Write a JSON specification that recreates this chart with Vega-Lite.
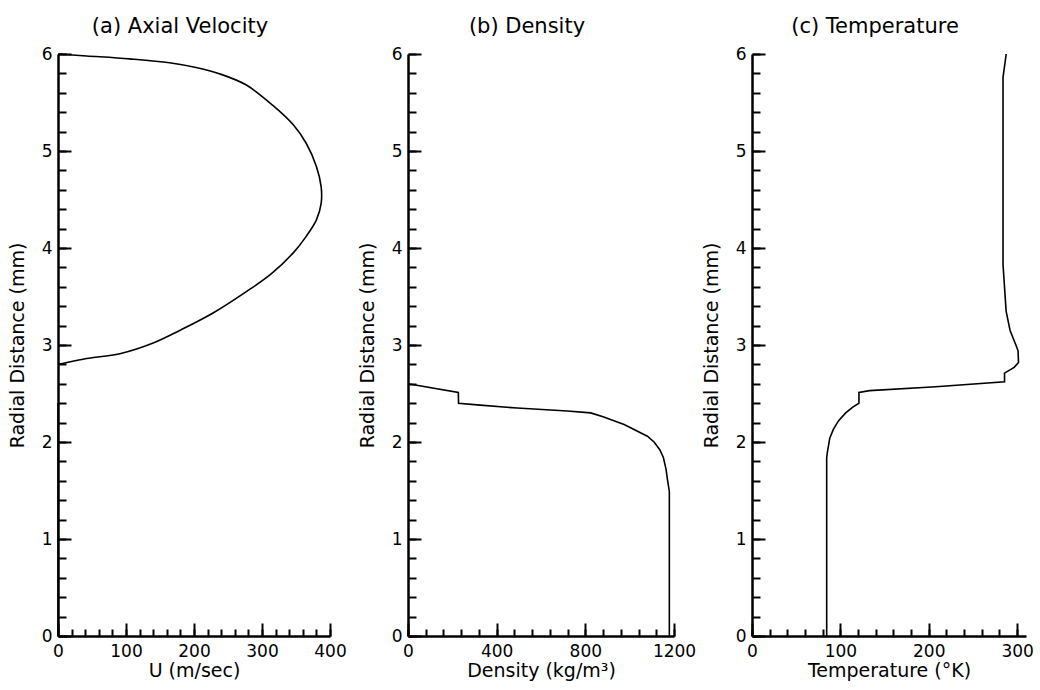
{
  "$schema": "https://vega.github.io/schema/vega-lite/v6.json",
  "background": "white",
  "padding": {"left": 8, "top": 16, "right": 5, "bottom": 2},
  "datasets": {
    "vel": [
      {"seg": "a", "U": 0, "r": 0},
      {"seg": "a", "U": 0, "r": 2.4},
      {"seg": "b", "U": 0, "r": 2.8},
      {"seg": "b", "U": 7, "r": 2.81},
      {"seg": "b", "U": 42, "r": 2.86},
      {"seg": "b", "U": 91, "r": 2.91},
      {"seg": "b", "U": 140, "r": 3.02},
      {"seg": "b", "U": 179, "r": 3.15},
      {"seg": "b", "U": 228, "r": 3.33},
      {"seg": "b", "U": 277, "r": 3.55},
      {"seg": "b", "U": 313, "r": 3.73},
      {"seg": "b", "U": 346, "r": 3.95},
      {"seg": "b", "U": 365, "r": 4.12},
      {"seg": "b", "U": 380, "r": 4.29},
      {"seg": "b", "U": 387, "r": 4.46},
      {"seg": "b", "U": 387, "r": 4.63},
      {"seg": "b", "U": 380, "r": 4.84},
      {"seg": "b", "U": 365, "r": 5.08},
      {"seg": "b", "U": 346, "r": 5.27},
      {"seg": "b", "U": 316, "r": 5.47},
      {"seg": "b", "U": 277, "r": 5.68},
      {"seg": "b", "U": 240, "r": 5.79},
      {"seg": "b", "U": 203, "r": 5.86},
      {"seg": "b", "U": 164, "r": 5.91},
      {"seg": "b", "U": 105, "r": 5.95},
      {"seg": "b", "U": 42, "r": 5.98},
      {"seg": "b", "U": 0, "r": 6.0}
    ],
    "den": [
      {"D": 1179, "r": 0},
      {"D": 1179, "r": 1.49},
      {"D": 1170, "r": 1.62},
      {"D": 1164, "r": 1.72},
      {"D": 1152, "r": 1.84},
      {"D": 1136, "r": 1.92},
      {"D": 1110, "r": 2.0},
      {"D": 1080, "r": 2.06},
      {"D": 975, "r": 2.18},
      {"D": 880, "r": 2.26},
      {"D": 824, "r": 2.3},
      {"D": 719, "r": 2.32},
      {"D": 492, "r": 2.35},
      {"D": 326, "r": 2.38},
      {"D": 228, "r": 2.4},
      {"D": 227, "r": 2.51},
      {"D": 0, "r": 2.6}
    ],
    "tem": [
      {"T": 84.5, "r": 0},
      {"T": 84.5, "r": 1.84},
      {"T": 85.7, "r": 1.92},
      {"T": 88, "r": 2.04},
      {"T": 92, "r": 2.13},
      {"T": 98, "r": 2.22},
      {"T": 106, "r": 2.3},
      {"T": 114, "r": 2.36},
      {"T": 121, "r": 2.4},
      {"T": 121, "r": 2.51},
      {"T": 133, "r": 2.53},
      {"T": 208, "r": 2.57},
      {"T": 285.7, "r": 2.62},
      {"T": 285.7, "r": 2.71},
      {"T": 296.6, "r": 2.77},
      {"T": 301.5, "r": 2.82},
      {"T": 301, "r": 2.94},
      {"T": 299, "r": 2.99},
      {"T": 292, "r": 3.15},
      {"T": 287.5, "r": 3.35},
      {"T": 284, "r": 3.83},
      {"T": 284, "r": 5.76},
      {"T": 287.6, "r": 6.0}
    ]
  },
  "hconcat": [
    {
      "width": 272,
      "height": 582,
      "title": {"text": "(a) Axial Velocity", "dx": -14, "offset": -9, "frame": "group", "baseline": "alphabetic"},
      "data": {"name": "vel"},
      "layer": [
        {
          "mark": {"type": "line", "color": "black", "strokeWidth": 1.6, "opacity": 0, "interpolate": "catmull-rom"},
          "encoding": {
            "x": {"field": "U", "type": "quantitative", "scale": {"domain": [0, 400], "nice": false},
              "axis": {"orient": "bottom", "title": null, "labels": false, "tickSize": -7,
                "values": [0, 20, 40, 60, 80, 100, 120, 140, 160, 180, 200, 220, 240, 260, 280, 300, 320, 340, 360, 380, 400]}},
            "y": {"field": "r", "type": "quantitative", "scale": {"domain": [0, 6], "nice": false},
              "axis": {"orient": "left", "title": null, "labels": false, "tickSize": -8,
                "values": [0, 0.2, 0.4, 0.6, 0.8, 1, 1.2, 1.4, 1.6, 1.8, 2, 2.2, 2.4, 2.6, 2.8, 3, 3.2, 3.4, 3.6, 3.8, 4, 4.2, 4.4, 4.6, 4.8, 5, 5.2, 5.4, 5.6, 5.8, 6]}},
            "order": {"field": "r", "type": "quantitative"},
            "detail": {"field": "seg", "type": "nominal"}
          }
        },
        {
          "mark": {"type": "line", "color": "black", "strokeWidth": 1.6, "interpolate": "catmull-rom"},
          "encoding": {
            "x": {"field": "U", "type": "quantitative", "scale": {"domain": [0, 400], "nice": false},
              "axis": {"orient": "bottom", "title": "U (m/sec)", "domain": false, "tickSize": -13, "labelPadding": 20,
                "values": [0, 100, 200, 300, 400]}},
            "y": {"field": "r", "type": "quantitative", "scale": {"domain": [0, 6], "nice": false},
              "axis": {"orient": "left", "title": "Radial Distance (mm)", "domain": false, "tickSize": -13, "labelPadding": 19, "format": "d",
                "values": [0, 1, 2, 3, 4, 5, 6]}},
            "order": {"field": "r", "type": "quantitative"},
            "detail": {"field": "seg", "type": "nominal"}
          }
        }
      ],
      "resolve": {"axis": {"x": "independent", "y": "independent"}}
    },
    {
      "width": 266,
      "height": 582,
      "title": {"text": "(b) Density", "dx": -14, "offset": -9, "frame": "group", "baseline": "alphabetic"},
      "data": {"name": "den"},
      "layer": [
        {
          "mark": {"type": "line", "color": "black", "strokeWidth": 1.6, "opacity": 0},
          "encoding": {
            "x": {"field": "D", "type": "quantitative", "scale": {"domain": [0, 1200], "nice": false},
              "axis": {"orient": "bottom", "title": null, "labels": false, "tickSize": -7,
                "values": [0, 80, 160, 240, 320, 400, 480, 560, 640, 720, 800, 880, 960, 1040, 1120, 1200]}},
            "y": {"field": "r", "type": "quantitative", "scale": {"domain": [0, 6], "nice": false},
              "axis": {"orient": "left", "title": null, "labels": false, "tickSize": -8,
                "values": [0, 0.2, 0.4, 0.6, 0.8, 1, 1.2, 1.4, 1.6, 1.8, 2, 2.2, 2.4, 2.6, 2.8, 3, 3.2, 3.4, 3.6, 3.8, 4, 4.2, 4.4, 4.6, 4.8, 5, 5.2, 5.4, 5.6, 5.8, 6]}},
            "order": {"field": "r", "type": "quantitative"}
          }
        },
        {
          "mark": {"type": "line", "color": "black", "strokeWidth": 1.6},
          "encoding": {
            "x": {"field": "D", "type": "quantitative", "scale": {"domain": [0, 1200], "nice": false},
              "axis": {"orient": "bottom", "title": "Density (kg/m³)", "domain": false, "tickSize": -13, "labelPadding": 20, "format": "d",
                "values": [0, 400, 800, 1200]}},
            "y": {"field": "r", "type": "quantitative", "scale": {"domain": [0, 6], "nice": false},
              "axis": {"orient": "left", "title": "Radial Distance (mm)", "domain": false, "tickSize": -13, "labelPadding": 19, "format": "d",
                "values": [0, 1, 2, 3, 4, 5, 6]}},
            "order": {"field": "r", "type": "quantitative"}
          }
        }
      ],
      "resolve": {"axis": {"x": "independent", "y": "independent"}}
    },
    {
      "width": 274,
      "height": 582,
      "title": {"text": "(c) Temperature", "dx": -14, "offset": -9, "frame": "group", "baseline": "alphabetic"},
      "data": {"name": "tem"},
      "layer": [
        {
          "mark": {"type": "line", "color": "black", "strokeWidth": 1.6, "opacity": 0},
          "encoding": {
            "x": {"field": "T", "type": "quantitative", "scale": {"domain": [0, 310], "nice": false},
              "axis": {"orient": "bottom", "title": null, "labels": false, "tickSize": -7,
                "values": [0, 20, 40, 60, 80, 100, 120, 140, 160, 180, 200, 220, 240, 260, 280, 300]}},
            "y": {"field": "r", "type": "quantitative", "scale": {"domain": [0, 6], "nice": false},
              "axis": {"orient": "left", "title": null, "labels": false, "tickSize": -8,
                "values": [0, 0.2, 0.4, 0.6, 0.8, 1, 1.2, 1.4, 1.6, 1.8, 2, 2.2, 2.4, 2.6, 2.8, 3, 3.2, 3.4, 3.6, 3.8, 4, 4.2, 4.4, 4.6, 4.8, 5, 5.2, 5.4, 5.6, 5.8, 6]}},
            "order": {"field": "r", "type": "quantitative"}
          }
        },
        {
          "mark": {"type": "line", "color": "black", "strokeWidth": 1.6},
          "encoding": {
            "x": {"field": "T", "type": "quantitative", "scale": {"domain": [0, 310], "nice": false},
              "axis": {"orient": "bottom", "title": "Temperature (°K)", "domain": false, "tickSize": -13, "labelPadding": 20, "format": "d",
                "values": [0, 100, 200, 300]}},
            "y": {"field": "r", "type": "quantitative", "scale": {"domain": [0, 6], "nice": false},
              "axis": {"orient": "left", "title": "Radial Distance (mm)", "domain": false, "tickSize": -13, "labelPadding": 19, "format": "d",
                "values": [0, 1, 2, 3, 4, 5, 6]}},
            "order": {"field": "r", "type": "quantitative"}
          }
        }
      ],
      "resolve": {"axis": {"x": "independent", "y": "independent"}}
    }
  ],
  "spacing": 78,
  "bounds": "flush",
  "config": {
    "view": {"stroke": null},
    "axis": {
      "grid": false,
      "domainColor": "black",
      "domainWidth": 2.5,
      "tickColor": "black",
      "tickWidth": 2,
      "labelFont": "DejaVu Sans",
      "labelFontSize": 17,
      "labelColor": "black",
      "labelFlush": false,
      "labelOverlap": false,
      "titleFont": "DejaVu Sans",
      "titleFontSize": 19,
      "titleFontWeight": "normal",
      "titleColor": "black",
      "titlePadding": 14
    },
    "axisX": {"titlePadding": 2},
    "title": {"font": "DejaVu Sans", "fontSize": 21, "fontWeight": "normal", "color": "black"}
  }
}
